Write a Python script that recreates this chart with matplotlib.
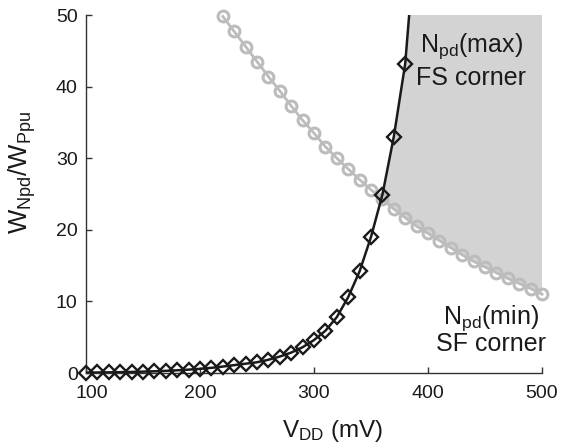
import numpy as np
import matplotlib
matplotlib.use("Agg")
import matplotlib.pyplot as plt
from matplotlib.transforms import ScaledTranslation

plt.rcParams['font.family'] = ['Liberation Sans', 'DejaVu Sans']
plt.rcParams['mathtext.default'] = 'regular'

# Data
vdd_max = [100, 110, 120, 130, 140, 150, 160, 170, 180, 190, 200, 210, 220, 230, 240,
           250, 260, 270, 280, 290, 300, 310, 320, 330, 340, 350, 360, 370, 380]
ratio_max = [0.05, 0.07, 0.09, 0.12, 0.15, 0.19, 0.24, 0.30, 0.38, 0.47, 0.58, 0.72, 0.90,
             1.1, 1.3, 1.5, 1.85, 2.3, 2.85, 3.6, 4.6, 5.9, 7.8, 10.6, 14.2, 19.0, 24.9, 33.0, 43.2]
curve_end_x = [384]
curve_end_y = [51]

vdd_min = [220, 230, 240, 250, 260, 270, 280, 290, 300, 310, 320, 330, 340, 350, 360,
           370, 380, 390, 400, 410, 420, 430, 440, 450, 460, 470, 480, 490, 500]
ratio_min = [49.8, 47.7, 45.6, 43.5, 41.4, 39.4, 37.3, 35.3, 33.5, 31.6, 30.0, 28.5, 27.0, 25.6, 24.3,
             22.9, 21.7, 20.5, 19.5, 18.5, 17.5, 16.5, 15.6, 14.8, 14.0, 13.2, 12.5, 11.8, 11.0]

xticks = [100, 200, 300, 400, 500]
yticks = [0, 10, 20, 30, 40, 50]

fig = plt.figure(figsize=(5.69, 4.47), dpi=100)
ax = fig.add_axes([86/569, 1-373/447, (542-86)/569, (373-15)/447])

# Feasible region polygon built from the data
bx = np.array(vdd_max, float); by = np.array(ratio_max, float)
gx = np.array(vdd_min, float); gy = np.array(ratio_min, float)
common = np.intersect1d(bx, gx)
d = np.array([by[bx == c][0] - gy[gx == c][0] for c in common])
k = np.where((d[:-1] < 0) & (d[1:] >= 0))[0][0]
t = -d[k] / (d[k+1] - d[k])
xi = common[k] + t * (common[k+1] - common[k])
yi = np.interp(xi, gx, gy)
top = 60
poly_x = [xi] + list(bx[bx > xi]) + curve_end_x + [curve_end_x[0], gx[-1]] + list(gx[gx > xi][::-1])
poly_y = [yi] + list(by[bx > xi]) + curve_end_y + [top, top] + list(gy[gx > xi][::-1])
ax.fill(poly_x, poly_y, color='#d3d3d3', lw=0, zorder=1)

ax.plot(vdd_min, ratio_min, color='#bcbcbc', lw=2.0, marker='o', ms=7.8,
        mfc='none', mec='#bcbcbc', mew=2.2, zorder=2, clip_on=False)
ax.plot(vdd_max + curve_end_x, ratio_max + curve_end_y, color='#1a1a1a', lw=1.8, zorder=3)
ax.plot(vdd_max, ratio_max, ls='none', marker='D', ms=6.8, mfc='none',
        mec='#1a1a1a', mew=1.7, zorder=4, clip_on=False)

ax.set_xlim(100, 500)
ax.set_ylim(0, 50)
ax.set_xticks(xticks)
ax.set_yticks(yticks)
for s in ['top', 'right']:
    ax.spines[s].set_visible(False)
for s in ['left', 'bottom']:
    ax.spines[s].set_color('#333333')
    ax.spines[s].set_linewidth(1.0)
ax.tick_params(direction='in', length=4, width=1.0, color='#333333', labelsize=14,
               labelcolor='#1a1a1a')
ax.tick_params(axis='x', pad=9)
ax.tick_params(axis='y', pad=6)
lab0 = ax.get_xticklabels()[0]
lab0.set_transform(lab0.get_transform() + ScaledTranslation(4/72, 0, fig.dpi_scale_trans))

ax.set_xlabel(r'V$_{DD}$ (mV)', fontsize=17.5, color='#1a1a1a')
ax.xaxis.set_label_coords(0.54, -0.125)
ax.set_ylabel(r'W$_{Npd}$/W$_{Ppu}$', fontsize=18.5, color='#1a1a1a')
ax.yaxis.set_label_coords(-0.105, 0.56)

def px_to_x(px):
    return 100 + (px - 86) / 1.14

ax.text(px_to_x(471), 45.6, r'N$_{pd}$(max)', fontsize=18, ha='center', va='center', color='#1a1a1a')
ax.text(px_to_x(471), 41.2, 'FS corner', fontsize=18, ha='center', va='center', color='#1a1a1a')
ax.text(px_to_x(491), 7.7, r'N$_{pd}$(min)', fontsize=18, ha='center', va='center', color='#1a1a1a')
ax.text(px_to_x(491), 4.1, 'SF corner', fontsize=18, ha='center', va='center', color='#1a1a1a')

fig.savefig('out.png', dpi=100)
